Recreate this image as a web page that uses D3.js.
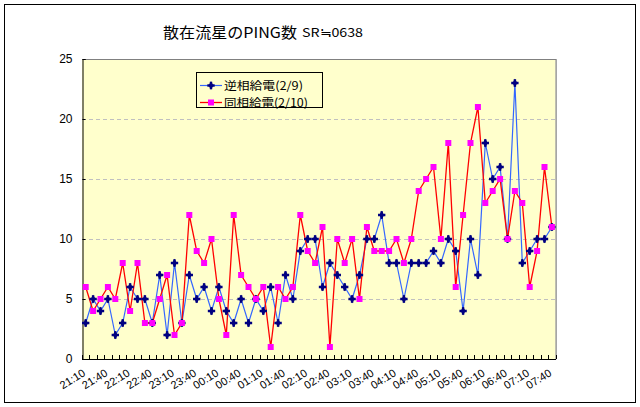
<!DOCTYPE html>
<html>
<head>
<meta charset="utf-8">
<script src="https://cdn.jsdelivr.net/npm/d3@7/dist/d3.min.js"></script>
<style>
  html, body { margin: 0; padding: 0; background: #fff; }
  svg { display: block; }
</style>
</head>
<body>
<script>
// ---- data ----
const times = ["21:10","21:20","21:30","21:40","21:50","22:00","22:10","22:20","22:30","22:40","22:50","23:00",
  "23:10","23:20","23:30","23:40","23:50","00:00","00:10","00:20","00:30","00:40","00:50","01:00",
  "01:10","01:20","01:30","01:40","01:50","02:00","02:10","02:20","02:30","02:40","02:50","03:00",
  "03:10","03:20","03:30","03:40","03:50","04:00","04:10","04:20","04:30","04:40","04:50","05:00",
  "05:10","05:20","05:30","05:40","05:50","06:00","06:10","06:20","06:30","06:40","06:50","07:00",
  "07:10","07:20","07:30","07:40"];
const reverseFeed = [3,5,4,5,2,3,6,5,5,3,7,2,8,3,7,5, 6,4,6,4,3,5,3,5,4,6,3,7,5,9,10,10,
  6,8,7,6,5,7,10,10,12,8,8,5,8,8,8,9, 8,10,9,4,10,7,18,15,16,10,23,8,9,10,10,11];
const sameFeed = [6,4,5,6,5,8,4,8,3,3,5,7,2,3,12,9, 8,10,5,2,12,7,6,5,6,1,6,5,6,12,9,8,
  11,1,10,8,10,5,11,9,9,9,10,8,10,14,15,16, 10,18,6,12,18,21,13,14,15,10,14,13,6,9,16,11];
const yTicks = [0,5,10,15,20,25];
const seriesNames = ["逆相給電(2/9)", "同相給電(2/10)"];
const titleText = "散在流星のPING数";
const subTitleText = "SR≒0638";

// ---- layout ----
const W = 640, H = 407;
const plot = {left: 82, right: 555.6, top: 59, bottom: 359};

const svg = d3.select("body").append("svg").attr("width", W).attr("height", H);

// outer frame
svg.append("rect").attr("x", 4.5).attr("y", 4.5).attr("width", 631).attr("height", 398)
  .attr("fill", "#fff").attr("stroke", "#000").attr("stroke-width", 1);

const x = d3.scaleBand().domain(d3.range(times.length)).range([plot.left, plot.right]).paddingInner(0).paddingOuter(0);
const y = d3.scaleLinear().domain([0, 25]).range([plot.bottom, plot.top]);
const cx = i => x(i) + x.bandwidth() / 2;

// plot background
svg.append("rect").attr("x", plot.left).attr("y", plot.top)
  .attr("width", plot.right - plot.left).attr("height", plot.bottom - plot.top)
  .attr("fill", "#FFFFCC");

// gridlines
svg.append("g").selectAll("line").data(yTicks.filter(d => d > 0 && d < 25)).join("line")
  .attr("x1", plot.left).attr("x2", plot.right)
  .attr("y1", d => Math.round(y(d)) + 0.5).attr("y2", d => Math.round(y(d)) + 0.5)
  .attr("stroke", "#C0C0C0").attr("stroke-dasharray", "4,3").attr("stroke-width", 1);

// plot border top/right gray
svg.append("path")
  .attr("d", `M${plot.left},${plot.top + 0.5}H${plot.right + 0.5}V${plot.bottom}`)
  .attr("fill", "none").attr("stroke", "#808080").attr("stroke-width", 1.2);

// y axis
const yAxis = d3.axisLeft(y).tickValues(yTicks).tickSize(-3).tickPadding(10).tickFormat(d3.format("d"));
const gy = svg.append("g").attr("transform", `translate(${plot.left + 0.5},0)`).call(yAxis);
gy.select(".domain").attr("stroke", "#000");
gy.selectAll(".tick line").attr("stroke", "#000");
gy.selectAll(".tick text").attr("font-family", "'Liberation Sans', Arial, sans-serif")
  .attr("font-size", 12).attr("fill", "#000");

// x axis with ticks at band boundaries
svg.append("line").attr("x1", plot.left).attr("x2", plot.right + 0.5)
  .attr("y1", plot.bottom + 0.5).attr("y2", plot.bottom + 0.5).attr("stroke", "#000");
svg.append("g").selectAll("line").data(d3.range(times.length + 1)).join("line")
  .attr("x1", i => Math.round(plot.left + i * x.bandwidth()) + 0.5)
  .attr("x2", i => Math.round(plot.left + i * x.bandwidth()) + 0.5)
  .attr("y1", plot.bottom).attr("y2", plot.bottom - 4)
  .attr("stroke", "#000");

svg.append("g").selectAll("text").data(times.map((t, i) => ({t, i})).filter(d => d.i % 3 === 0)).join("text")
  .attr("transform", d => `translate(${cx(d.i) + 0.5},${plot.bottom + 16}) rotate(-32)`)
  .attr("text-anchor", "end")
  .attr("font-family", "'Liberation Sans', Arial, sans-serif").attr("font-size", 11)
  .attr("fill", "#000")
  .text(d => d.t);

// lines
const line = d3.line().x((d, i) => cx(i)).y(d => y(d));
svg.append("path").datum(reverseFeed).attr("d", line)
  .attr("fill", "none").attr("stroke", "#3366FF").attr("stroke-width", 1.2);
svg.append("path").datum(sameFeed).attr("d", line)
  .attr("fill", "none").attr("stroke", "#FF0000").attr("stroke-width", 1.3);

// markers
const blueMark = d3.symbol().type(d3.symbolCross).size(30);
const diamond = d3.symbol().type(d3.symbolDiamond).size(20);
function drawBlue(g, px, py) {
  g.append("path").attr("d", blueMark()).attr("transform", `translate(${px},${py})`).attr("fill", "#000080");
  g.append("path").attr("d", diamond()).attr("transform", `translate(${px},${py})`).attr("fill", "#000080");
}
const gm = svg.append("g");
reverseFeed.forEach((v, i) => drawBlue(gm, cx(i), y(v)));
const gr = svg.append("g");
gr.selectAll("rect").data(sameFeed).join("rect")
  .attr("x", (d, i) => cx(i) - 3).attr("y", d => y(d) - 3)
  .attr("width", 6).attr("height", 6).attr("fill", "#FF00FF");

// legend
const lg = svg.append("g");
lg.append("rect").attr("x", 196.5).attr("y", 72.5).attr("width", 126).attr("height", 35)
  .attr("fill", "#FFFFCC").attr("stroke", "#000").attr("stroke-width", 1);
lg.append("line").attr("x1", 200).attr("x2", 222).attr("y1", 85.5).attr("y2", 85.5).attr("stroke", "#3366FF").attr("stroke-width", 1.2);
drawBlue(lg, 211, 85.5);
lg.append("line").attr("x1", 200).attr("x2", 222).attr("y1", 102.5).attr("y2", 102.5).attr("stroke", "#FF0000").attr("stroke-width", 1.3);
lg.append("rect").attr("x", 208).attr("y", 99.5).attr("width", 6).attr("height", 6).attr("fill", "#FF00FF");
const legendLens = [79, 84];
lg.selectAll("text").data(seriesNames).join("text")
  .attr("x", 224).attr("y", (d, i) => 85.5 + i * 17).attr("dy", "0.36em")
  .attr("font-family", "'Noto Sans CJK JP', sans-serif").attr("font-size", 11.5).attr("fill", "#000")
  .attr("textLength", (d, i) => legendLens[i]).attr("lengthAdjust", "spacingAndGlyphs")
  .text(d => d);

// title
svg.append("text").attr("x", 163).attr("y", 38)
  .attr("font-family", "'Noto Sans CJK JP', sans-serif").attr("font-size", 15)
  .attr("textLength", 134).attr("lengthAdjust", "spacingAndGlyphs")
  .attr("fill", "#000").text(titleText);
svg.append("text").attr("x", 302).attr("y", 37)
  .attr("font-family", "'Noto Sans CJK JP', sans-serif").attr("font-size", 12)
  .attr("textLength", 61).attr("lengthAdjust", "spacingAndGlyphs")
  .attr("fill", "#000").text(subTitleText);
</script>
</body>
</html>
